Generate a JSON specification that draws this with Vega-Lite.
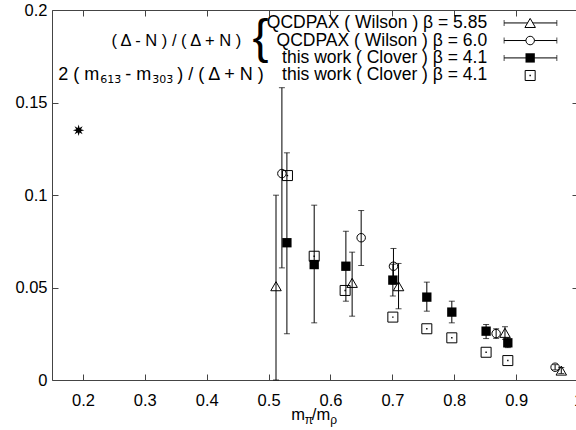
{
  "$schema": "https://vega.github.io/schema/vega-lite/v6.json",
  "width": 526,
  "height": 370,
  "autosize": {"type": "none"},
  "padding": {"left": 52, "top": 10, "right": 0, "bottom": 50},
  "background": "white",
  "datasets": {
    "pts": [
      {"s": "A", "x": 0.512, "y": 0.0507, "lo": 0.0, "hi": 0.0999},
      {"s": "A", "x": 0.635, "y": 0.0525, "lo": 0.0345, "hi": 0.0691},
      {"s": "A", "x": 0.710, "y": 0.0507, "lo": 0.0385, "hi": 0.063},
      {"s": "A", "x": 0.882, "y": 0.0255, "lo": 0.022, "hi": 0.0288},
      {"s": "A", "x": 0.973, "y": 0.0051, "lo": 0.0035, "hi": 0.0067},
      {"s": "B", "x": 0.5215, "y": 0.1116, "lo": 0.0606, "hi": 0.158},
      {"s": "B", "x": 0.6496, "y": 0.0769, "lo": 0.0619, "hi": 0.0916},
      {"s": "B", "x": 0.7018, "y": 0.0615, "lo": 0.0519, "hi": 0.0711},
      {"s": "B", "x": 0.8677, "y": 0.0251, "lo": 0.0225, "hi": 0.0277},
      {"s": "B", "x": 0.963, "y": 0.0069, "lo": 0.0055, "hi": 0.0083},
      {"s": "C", "x": 0.5296, "y": 0.0742, "lo": 0.025, "hi": 0.1228},
      {"s": "C", "x": 0.5737, "y": 0.0624, "lo": 0.0309, "hi": 0.0945},
      {"s": "C", "x": 0.6249, "y": 0.0615, "lo": 0.0426, "hi": 0.0804},
      {"s": "C", "x": 0.7008, "y": 0.054, "lo": 0.0454, "hi": 0.0626},
      {"s": "C", "x": 0.7557, "y": 0.0448, "lo": 0.0372, "hi": 0.0529},
      {"s": "C", "x": 0.7961, "y": 0.0367, "lo": 0.0309, "hi": 0.0426},
      {"s": "C", "x": 0.8515, "y": 0.0264, "lo": 0.0224, "hi": 0.030},
      {"s": "C", "x": 0.8866, "y": 0.0201, "lo": 0.0175, "hi": 0.0227},
      {"s": "D", "x": 0.5305, "y": 0.1105},
      {"s": "D", "x": 0.5737, "y": 0.0669},
      {"s": "D", "x": 0.6237, "y": 0.0484},
      {"s": "D", "x": 0.7008, "y": 0.034},
      {"s": "D", "x": 0.7557, "y": 0.0277},
      {"s": "D", "x": 0.7961, "y": 0.0228},
      {"s": "D", "x": 0.8515, "y": 0.015},
      {"s": "D", "x": 0.8866, "y": 0.0105},
      {"s": "E", "x": 0.193, "y": 0.135}
    ]
  },
  "data": {"name": "pts"},
  "layer": [
    {
      "layer": [
        {
          "transform": [{"filter": "isValid(datum.lo)"}],
          "mark": {"type": "rule", "color": "black", "strokeWidth": 1},
          "encoding": {
            "x": {"field": "x", "type": "quantitative",
                  "scale": {"domain": [0.15, 1.0], "nice": false, "zero": false},
                  "axis": {"orient": "bottom", "values": [0.2, 0.3, 0.4, 0.5, 0.6, 0.7, 0.8, 0.9, 1.0], "format": "~g", "tickSize": -6, "labelPadding": 18, "labelFlush": false, "labelOverlap": false, "title": null}},
            "y": {"field": "lo", "type": "quantitative",
                  "scale": {"domain": [0, 0.2], "nice": false, "zero": false},
                  "axis": {"orient": "left", "values": [0, 0.05, 0.1, 0.15, 0.2], "format": "~g", "tickSize": -6, "labelPadding": 11, "labelOverlap": false, "title": null}},
            "y2": {"field": "hi"}
          }
        },
        {
          "transform": [{"filter": "isValid(datum.lo)"}],
          "mark": {"type": "tick", "orient": "horizontal", "size": 6, "thickness": 1, "color": "black"},
          "encoding": {"x": {"field": "x", "type": "quantitative"}, "y": {"field": "lo", "type": "quantitative"}}
        },
        {
          "transform": [{"filter": "isValid(datum.hi)"}],
          "mark": {"type": "tick", "orient": "horizontal", "size": 6, "thickness": 1, "color": "black"},
          "encoding": {"x": {"field": "x", "type": "quantitative"}, "y": {"field": "hi", "type": "quantitative"}}
        },
        {
          "transform": [{"filter": "datum.s == 'A'"}],
          "mark": {"type": "point", "shape": "triangle-up", "filled": false, "size": 110, "stroke": "black", "strokeWidth": 1, "opacity": 1},
          "encoding": {"x": {"field": "x", "type": "quantitative"}, "y": {"field": "y", "type": "quantitative"}}
        },
        {
          "transform": [{"filter": "datum.s == 'B'"}],
          "mark": {"type": "point", "shape": "circle", "filled": false, "size": 72, "stroke": "black", "strokeWidth": 1, "opacity": 1},
          "encoding": {"x": {"field": "x", "type": "quantitative"}, "y": {"field": "y", "type": "quantitative"}}
        },
        {
          "transform": [{"filter": "datum.s == 'C'"}],
          "mark": {"type": "point", "shape": "square", "filled": true, "size": 87, "color": "black", "opacity": 1},
          "encoding": {"x": {"field": "x", "type": "quantitative"}, "y": {"field": "y", "type": "quantitative"}}
        },
        {
          "transform": [{"filter": "datum.s == 'D'"}],
          "mark": {"type": "point", "shape": "square", "filled": false, "size": 100, "stroke": "black", "strokeWidth": 1, "opacity": 1},
          "encoding": {"x": {"field": "x", "type": "quantitative"}, "y": {"field": "y", "type": "quantitative"}}
        },
        {
          "transform": [{"filter": "datum.s == 'D'"}],
          "mark": {"type": "point", "shape": "square", "filled": true, "size": 2, "color": "black", "opacity": 1},
          "encoding": {"x": {"field": "x", "type": "quantitative"}, "y": {"field": "y", "type": "quantitative"}}
        },
        {
          "transform": [{"filter": "datum.s == 'E'"}],
          "mark": {"type": "point", "shape": "M1,0L0.416,0.172L0.707,0.707L0.172,0.416L0,1L-0.172,0.416L-0.707,0.707L-0.416,0.172L-1,0L-0.416,-0.172L-0.707,-0.707L-0.172,-0.416L0,-1L0.172,-0.416L0.707,-0.707L0.416,-0.172Z", "filled": true, "size": 130, "color": "black", "opacity": 1},
          "encoding": {"x": {"field": "x", "type": "quantitative"}, "y": {"field": "y", "type": "quantitative"}}
        },
        {
          "data": {"values": [{}]},
          "mark": {"type": "rule", "color": "black", "strokeWidth": 1},
          "encoding": {"x": {"datum": 0.8806, "type": "quantitative"}, "x2": {"datum": 0.9658}, "y": {"datum": 0.1930, "type": "quantitative"}}
        },
        {
          "data": {"values": [{}]},
          "mark": {"type": "rule", "color": "black", "strokeWidth": 1},
          "encoding": {"x": {"datum": 0.8806, "type": "quantitative"}, "x2": {"datum": 0.9658}, "y": {"datum": 0.1835, "type": "quantitative"}}
        },
        {
          "data": {"values": [{}]},
          "mark": {"type": "rule", "color": "black", "strokeWidth": 1},
          "encoding": {"x": {"datum": 0.8806, "type": "quantitative"}, "x2": {"datum": 0.9658}, "y": {"datum": 0.1741, "type": "quantitative"}}
        },
        {
          "data": {"values": [{}]},
          "mark": {"type": "tick", "orient": "vertical", "size": 6, "thickness": 1, "color": "black"},
          "encoding": {"x": {"datum": 0.8806, "type": "quantitative"}, "y": {"datum": 0.1930, "type": "quantitative"}}
        },
        {
          "data": {"values": [{}]},
          "mark": {"type": "tick", "orient": "vertical", "size": 6, "thickness": 1, "color": "black"},
          "encoding": {"x": {"datum": 0.9658, "type": "quantitative"}, "y": {"datum": 0.1930, "type": "quantitative"}}
        },
        {
          "data": {"values": [{}]},
          "mark": {"type": "tick", "orient": "vertical", "size": 6, "thickness": 1, "color": "black"},
          "encoding": {"x": {"datum": 0.8806, "type": "quantitative"}, "y": {"datum": 0.1835, "type": "quantitative"}}
        },
        {
          "data": {"values": [{}]},
          "mark": {"type": "tick", "orient": "vertical", "size": 6, "thickness": 1, "color": "black"},
          "encoding": {"x": {"datum": 0.9658, "type": "quantitative"}, "y": {"datum": 0.1835, "type": "quantitative"}}
        },
        {
          "data": {"values": [{}]},
          "mark": {"type": "tick", "orient": "vertical", "size": 6, "thickness": 1, "color": "black"},
          "encoding": {"x": {"datum": 0.8806, "type": "quantitative"}, "y": {"datum": 0.1741, "type": "quantitative"}}
        },
        {
          "data": {"values": [{}]},
          "mark": {"type": "tick", "orient": "vertical", "size": 6, "thickness": 1, "color": "black"},
          "encoding": {"x": {"datum": 0.9658, "type": "quantitative"}, "y": {"datum": 0.1741, "type": "quantitative"}}
        },
        {
          "data": {"values": [{}]},
          "mark": {"type": "point", "shape": "triangle-up", "filled": true, "fill": "white", "size": 110, "stroke": "black", "strokeWidth": 1, "opacity": 1},
          "encoding": {"x": {"datum": 0.9227, "type": "quantitative"}, "y": {"datum": 0.1930, "type": "quantitative"}}
        },
        {
          "data": {"values": [{}]},
          "mark": {"type": "point", "shape": "circle", "filled": true, "fill": "white", "size": 72, "stroke": "black", "strokeWidth": 1, "opacity": 1},
          "encoding": {"x": {"datum": 0.9227, "type": "quantitative"}, "y": {"datum": 0.1835, "type": "quantitative"}}
        },
        {
          "data": {"values": [{}]},
          "mark": {"type": "point", "shape": "square", "filled": true, "size": 87, "color": "black", "opacity": 1},
          "encoding": {"x": {"datum": 0.9227, "type": "quantitative"}, "y": {"datum": 0.1741, "type": "quantitative"}}
        },
        {
          "data": {"values": [{}]},
          "mark": {"type": "point", "shape": "square", "filled": false, "size": 100, "stroke": "black", "strokeWidth": 1, "opacity": 1},
          "encoding": {"x": {"datum": 0.9227, "type": "quantitative"}, "y": {"datum": 0.1646, "type": "quantitative"}}
        },
        {
          "data": {"values": [{}]},
          "mark": {"type": "point", "shape": "square", "filled": true, "size": 2, "color": "black", "opacity": 1},
          "encoding": {"x": {"datum": 0.9227, "type": "quantitative"}, "y": {"datum": 0.1646, "type": "quantitative"}}
        },
        {
          "data": {"values": [{}]},
          "mark": {"type": "text", "align": "right", "baseline": "middle", "text": "QCDPAX ( Wilson ) β = 5.85", "fontSize": 17.5},
          "encoding": {"x": {"datum": 0.8532, "type": "quantitative"}, "y": {"datum": 0.1930, "type": "quantitative"}}
        },
        {
          "data": {"values": [{}]},
          "mark": {"type": "text", "align": "right", "baseline": "middle", "text": "QCDPAX ( Wilson ) β = 6.0", "fontSize": 17.5},
          "encoding": {"x": {"datum": 0.8532, "type": "quantitative"}, "y": {"datum": 0.1835, "type": "quantitative"}}
        },
        {
          "data": {"values": [{}]},
          "mark": {"type": "text", "align": "right", "baseline": "middle", "text": "this work ( Clover ) β = 4.1", "fontSize": 17.5},
          "encoding": {"x": {"datum": 0.8532, "type": "quantitative"}, "y": {"datum": 0.1741, "type": "quantitative"}}
        },
        {
          "data": {"values": [{}]},
          "mark": {"type": "text", "align": "right", "baseline": "middle", "text": "this work ( Clover ) β = 4.1", "fontSize": 17.5},
          "encoding": {"x": {"datum": 0.8532, "type": "quantitative"}, "y": {"datum": 0.1646, "type": "quantitative"}}
        },
        {
          "data": {"values": [{}]},
          "mark": {"type": "text", "align": "right", "baseline": "middle", "text": "( Δ - N ) / ( Δ + N )"},
          "encoding": {"x": {"datum": 0.4557, "type": "quantitative"}, "y": {"datum": 0.1832, "type": "quantitative"}}
        },
        {
          "data": {"values": [{}]},
          "mark": {"type": "text", "align": "left", "baseline": "middle", "text": "{", "fontSize": 48},
          "encoding": {"x": {"datum": 0.4739, "type": "quantitative"}, "y": {"datum": 0.1841, "type": "quantitative"}}
        },
        {
          "data": {"values": [{}]},
          "mark": {"type": "text", "align": "left", "baseline": "middle", "text": "2 ( m", "fontSize": 18},
          "encoding": {"x": {"datum": 0.1601, "type": "quantitative"}, "y": {"datum": 0.1646, "type": "quantitative"}}
        },
        {
          "data": {"values": [{}]},
          "mark": {"type": "text", "align": "left", "baseline": "middle", "text": "613̄", "fontSize": 11, "font": "DejaVu Sans"},
          "encoding": {"x": {"datum": 0.2279, "type": "quantitative"}, "y": {"datum": 0.1619, "type": "quantitative"}}
        },
        {
          "data": {"values": [{}]},
          "mark": {"type": "text", "align": "left", "baseline": "middle", "text": "- m", "fontSize": 18},
          "encoding": {"x": {"datum": 0.2683, "type": "quantitative"}, "y": {"datum": 0.1646, "type": "quantitative"}}
        },
        {
          "data": {"values": [{}]},
          "mark": {"type": "text", "align": "left", "baseline": "middle", "text": "3̄03̄", "fontSize": 11, "font": "DejaVu Sans"},
          "encoding": {"x": {"datum": 0.3120, "type": "quantitative"}, "y": {"datum": 0.1619, "type": "quantitative"}}
        },
        {
          "data": {"values": [{}]},
          "mark": {"type": "text", "align": "left", "baseline": "middle", "text": ") / ( Δ + N )", "fontSize": 18},
          "encoding": {"x": {"datum": 0.3523, "type": "quantitative"}, "y": {"datum": 0.1646, "type": "quantitative"}}
        },
        {
          "data": {"values": [{}]},
          "mark": {"type": "text", "align": "left", "baseline": "alphabetic", "text": "m"},
          "encoding": {"x": {"datum": 0.5365, "type": "quantitative"}, "y": {"datum": -0.0214, "type": "quantitative"}}
        },
        {
          "data": {"values": [{}]},
          "mark": {"type": "text", "align": "left", "baseline": "alphabetic", "text": "π", "fontSize": 12},
          "encoding": {"x": {"datum": 0.5586, "type": "quantitative"}, "y": {"datum": -0.0236, "type": "quantitative"}}
        },
        {
          "data": {"values": [{}]},
          "mark": {"type": "text", "align": "left", "baseline": "alphabetic", "text": "/m"},
          "encoding": {"x": {"datum": 0.5699, "type": "quantitative"}, "y": {"datum": -0.0214, "type": "quantitative"}}
        },
        {
          "data": {"values": [{}]},
          "mark": {"type": "text", "align": "left", "baseline": "alphabetic", "text": "ρ", "fontSize": 12},
          "encoding": {"x": {"datum": 0.5995, "type": "quantitative"}, "y": {"datum": -0.0236, "type": "quantitative"}}
        }
      ]
    },
    {
      "mark": {"type": "point", "opacity": 0},
      "encoding": {
        "x": {"field": "x", "type": "quantitative",
              "scale": {"domain": [0.15, 1.0], "nice": false, "zero": false},
              "axis": {"orient": "top", "values": [0.2, 0.3, 0.4, 0.5, 0.6, 0.7, 0.8, 0.9, 1.0], "tickSize": -6, "labels": false, "title": null}},
        "y": {"field": "y", "type": "quantitative",
              "scale": {"domain": [0, 0.2], "nice": false, "zero": false},
              "axis": {"orient": "right", "values": [0, 0.05, 0.1, 0.15, 0.2], "tickSize": -6, "labels": false, "title": null}}
      }
    }
  ],
  "resolve": {"axis": {"x": "independent", "y": "independent"}},
  "config": {
    "view": {"stroke": "#444", "strokeWidth": 1},
    "axis": {"labelFont": "Liberation Sans", "labelFontSize": 16.5, "labelColor": "black", "tickColor": "#444", "domain": false, "grid": false},
    "text": {"font": "Liberation Sans", "fontSize": 16.5, "color": "black"}
  }
}
